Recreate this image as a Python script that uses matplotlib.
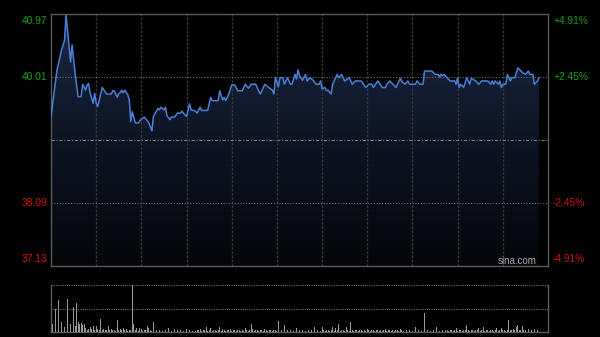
import matplotlib
matplotlib.use('Agg')
import matplotlib.pyplot as plt
import numpy as np
from matplotlib.patches import Polygon
from matplotlib.colors import LinearSegmentedColormap

# intraday price, minutes since open (330 min session)
minutes = [0, 4, 7, 9, 10, 11, 13, 14, 16, 18, 20, 21, 23, 24, 25, 26, 28, 29, 30, 31,
           34, 37, 40, 41, 42, 44, 45, 46, 47, 48, 49, 51, 52, 53, 54, 56, 58, 60, 62, 65,
           67, 68, 71, 72, 73, 75, 76, 77, 79, 80, 82,
           84, 86, 87, 89, 90, 92, 93, 96, 97, 99, 100, 104, 106, 107, 111, 112, 114, 115, 116, 117,
           118, 120, 122, 124, 127, 129, 131, 133, 136, 138, 139, 142, 144, 147, 148, 149, 151, 152, 154, 155,
           157, 159, 160, 162, 163, 164, 165,
           167, 169, 170, 172, 174, 176, 178, 179, 180, 182, 183, 184, 186, 187, 190, 191, 193, 195, 198, 200,
           202, 206, 209, 211, 213, 214, 217, 220, 222, 223, 225, 227, 229, 232, 233, 235, 237, 238, 242, 243,
           245, 247, 248,
           253, 255, 257, 258, 259, 260, 261, 263, 265, 268, 269, 270, 271, 272, 273, 274, 276, 278, 279, 280,
           282, 284, 286, 290, 292, 293, 294, 295, 297, 298, 299, 300, 302, 303, 305, 306, 308, 310, 313, 315,
           317, 318, 320, 321, 323, 324]
prices = [39.41, 40.12, 40.42, 40.57, 40.95, 40.72, 40.24, 40.50, 40.07, 39.71,
          39.71, 39.90, 39.81, 39.89, 39.91, 39.76, 39.61, 39.76, 39.61, 39.56,
          39.85, 39.75, 39.75, 39.80, 39.80, 39.70, 39.76, 39.77, 39.81, 39.77,
          39.81, 39.74, 39.66, 39.33, 39.48, 39.31, 39.31, 39.37, 39.40, 39.31,
          39.19, 39.41, 39.53, 39.51, 39.55, 39.51, 39.55, 39.42, 39.36, 39.40, 39.40,
          39.46, 39.46, 39.49, 39.43, 39.41, 39.60, 39.51, 39.49, 39.46, 39.55,
          39.50, 39.50, 39.70, 39.65, 39.65, 39.80, 39.66, 39.70, 39.65, 39.70,
          39.75, 39.89, 39.89, 39.80, 39.80, 39.90, 39.84, 39.90, 39.90, 39.79,
          39.75, 39.90, 39.86, 39.81, 39.75, 40.00, 39.86, 40.00, 40.00, 39.90,
          40.00, 39.90, 39.90, 40.05, 39.98, 40.12, 40.03,
          39.96, 40.05, 39.95, 40.00, 39.96, 39.90, 39.90, 39.95, 39.83, 39.85,
          39.80, 39.81, 39.75, 39.90, 40.05, 40.00, 40.05, 39.95, 40.00, 39.90,
          39.95, 39.95, 39.85, 39.90, 39.90, 39.85, 39.95, 39.85, 39.85, 39.90,
          39.95, 39.90, 39.85, 39.99, 39.94, 39.90, 39.95, 39.90, 39.90, 39.95,
          39.90, 39.90, 40.10,
          40.10, 40.05, 40.05, 40.01, 40.05, 40.03, 40.05, 40.00, 39.95, 39.95,
          39.90, 40.00, 39.85, 39.90, 39.88, 39.85, 40.00, 39.90, 39.99, 39.98,
          39.95, 39.90, 39.95, 39.95, 39.90, 39.95, 39.90, 39.95, 39.90, 39.95,
          39.85, 39.90, 39.90, 40.05, 39.95, 40.00, 40.00, 40.15, 40.08, 40.05,
          40.10, 40.05, 40.05, 39.90, 39.95, 40.00]

# volume per minute (relative, max = 100)
volumes = [27, 18, 12, 50, 50, 68, 47, 22, 86, 10, 72, 70, 15, 18, 10, 54, 13, 61, 22, 18,
           19, 15, 17, 8, 5, 7, 10, 6, 13, 5, 13, 6, 5, 27, 4, 7, 5, 4, 13, 5,
           7, 4, 5, 3, 26, 4, 7, 5, 8, 4, 7, 3, 4, 5, 100, 18, 4, 8, 3, 8,
           7, 3, 4, 5, 13, 8, 4, 3, 22, 15, 4, 3, 5, 4, 3, 5, 4, 3, 8, 4,
           3, 4, 7, 3, 4, 3, 5, 4, 3, 4, 7, 3, 4, 5, 3, 4, 3, 5, 4, 7,
           3, 4, 5, 10, 3, 4, 8, 3, 4, 5, 3, 4, 10, 3, 7, 4, 3, 5, 4, 7,
           3, 4, 5, 3, 4, 5, 3, 4, 3, 8, 4, 3, 5, 17, 7, 3, 4, 5, 3, 4,
           5, 3, 6, 4, 3, 5, 4, 3, 4, 5, 3, 24, 8, 4, 3, 15, 4, 5, 3, 4,
           7, 3, 4, 8, 15, 4, 3, 5, 4, 3, 4, 5, 3, 4, 5, 10, 3, 4, 5, 3,
           11, 4, 3, 5, 4, 3, 4, 10, 3, 8, 4, 17, 3, 4, 5, 3, 10, 4, 3, 21,
           4, 3, 5, 4, 3, 4, 5, 3, 4, 3, 7, 4, 3, 5, 4, 3, 4, 5, 3, 4,
           3, 4, 7, 3, 4, 5, 3, 4, 3, 5, 4, 3, 7, 4, 3, 5, 4, 3, 4, 5,
           3, 4, 10, 3, 4, 5, 3, 4, 41, 45, 5, 4, 3, 4, 5, 3, 10, 4, 3, 5,
           4, 3, 5, 4, 3, 4, 5, 3, 4, 8, 3, 4, 5, 3, 4, 5, 15, 4, 3, 5,
           4, 3, 5, 4, 8, 3, 4, 10, 3, 5, 4, 3, 5, 4, 3, 4, 8, 3, 5, 8,
           4, 5, 3, 4, 26, 5, 4, 6, 5, 10, 15, 4, 5, 13, 4, 5, 10, 6, 8, 5,
           13, 6, 11, 5, 10]

prev_close = 39.05
price_ticks = [37.13, 38.09, 40.01, 40.97]
pct_labels = ['-4.91%', '-2.45%', '+2.45%', '+4.91%']
session_len = 330

ymin, ymax = price_ticks[0], price_ticks[-1]
green = '#1a9e1a'
red = '#cc1111'
frame = '#5a5a5a'

fig = plt.figure(figsize=(6, 3.37), dpi=100, facecolor='black')
ax = fig.add_axes([51/600, 1-266/337, 497/600, 252/337], facecolor='black')
axv = fig.add_axes([51/600, 1-332/337, 497/600, 47/337], facecolor='black')

ax.set_xlim(0, session_len)
ax.set_ylim(ymin, ymax)

# gradient fill under the line
cmap = LinearSegmentedColormap.from_list('fill', ['#04060a', '#0d1424', '#1b2945'])
grad = np.linspace(0, 1, 256).reshape(-1, 1)
im = ax.imshow(grad, cmap=cmap, aspect='auto', origin='lower',
               extent=[0, session_len, ymin, ymax], zorder=1)
verts = [(minutes[0], ymin)] + list(zip(minutes, prices)) + [(minutes[-1], ymin)]
poly = Polygon(verts, closed=True, facecolor='none', edgecolor='none')
ax.add_patch(poly)
im.set_clip_path(poly)

# grid
for t in range(30, session_len, 30):
    ax.axvline(t, color='#353535', lw=1, ls=(0, (2, 1)), zorder=2)
for v in [price_ticks[1], price_ticks[2]]:
    ax.axhline(v, color='#6a6a6a', lw=0.8, ls=(0, (1, 1.5)), zorder=2)
ax.axhline(prev_close, color='#7a7a7a', lw=0.8, ls=(0, (3, 1.5, 1, 1.5)), zorder=2)

ax.plot(minutes, prices, color='#4a7fd6', lw=1.1, zorder=3)

for s in ax.spines.values():
    s.set_color(frame)
    s.set_linewidth(1)
ax.set_xticks([])
ax.set_yticks([])

# price labels (left) and percent labels (right)
colors = [red, red, green, green]
for i, (v, lab, c) in enumerate(zip(price_ticks, pct_labels, colors)):
    if i == 0:
        va, dy = 'bottom', 1.5
    elif i == 3:
        va, dy = 'top', -1.8
    else:
        va, dy = 'center', 0
    ax.annotate(f'{v:.2f}', xy=(0, v), xycoords=('axes fraction', 'data'),
                xytext=(-2.4, dy), textcoords='offset points', ha='right', va=va,
                color=c, fontsize=7.4, family='Liberation Sans')
    ax.annotate(lab, xy=(1, v), xycoords=('axes fraction', 'data'),
                xytext=(3.6, dy), textcoords='offset points', ha='left', va=va,
                color=c, fontsize=7.4, family='Liberation Sans')

ax.text(0.977, 0.018, 'sina.com', transform=ax.transAxes, ha='right', va='center',
        color='#a8a8a8', fontsize=7, family='Liberation Sans', zorder=4)

# volume panel
axv.set_xlim(0, session_len)
axv.set_ylim(0, 100)
axv.bar(range(len(volumes)), volumes, width=0.55, color='#999999', zorder=3)
axv.axhline(100, color='#6a6a6a', lw=0.8, ls=(0, (1, 1)), zorder=2, clip_on=False)
axv.axhline(50, color='#6a6a6a', lw=0.8, ls=(0, (1, 1)), zorder=2)
axv.spines['top'].set_visible(False)
for k in ['left', 'right', 'bottom']:
    axv.spines[k].set_color(frame)
    axv.spines[k].set_linewidth(1)
axv.set_xticks([])
axv.set_yticks([])

fig.savefig('out.png', dpi=100, facecolor='black')
